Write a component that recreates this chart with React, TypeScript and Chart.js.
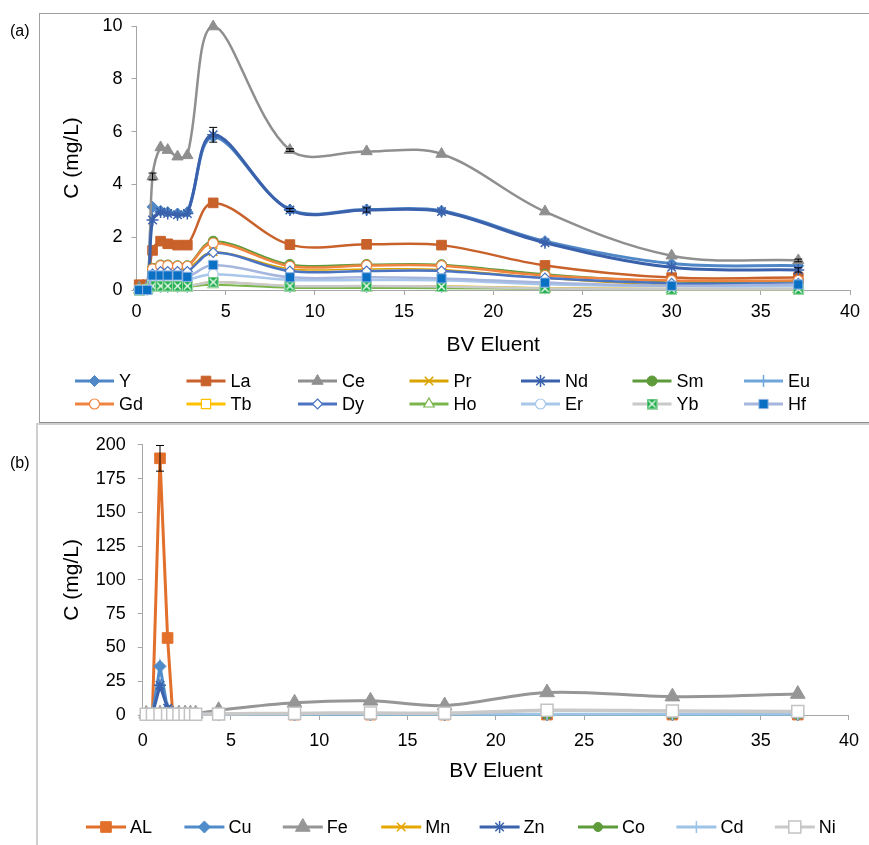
import React, { useEffect, useRef } from "react";
import { Chart, registerables } from "chart.js";
Chart.register(...registerables);

const FONT = "'Liberation Sans', Arial, sans-serif";

// ---------- shared ticks ----------
const X_TICKS = [0, 5, 10, 15, 20, 25, 30, 35, 40];
const Y_TICKS_A = [0, 2, 4, 6, 8, 10];
const Y_TICKS_B = [0, 25, 50, 75, 100, 125, 150, 175, 200];

// ---------- panel (a): REE ----------
const BV_A = [0.15, 0.6, 0.9, 1.35, 1.75, 2.3, 2.85, 4.3, 8.6, 12.9, 17.1, 22.9, 30, 37.1];
const NAMES_A = ["Y", "La", "Ce", "Pr", "Nd", "Sm", "Eu", "Gd", "Tb", "Dy", "Ho", "Er", "Yb", "Hf"];
const Y_A = [0.02, 0.05, 3.15, 3.0, 2.95, 2.9, 2.95, 5.8, 3.05, 3.05, 3.0, 1.85, 1.0, 0.92];
const LA_A = [0.2, 0.2, 1.5, 1.85, 1.75, 1.7, 1.7, 3.3, 1.72, 1.73, 1.7, 0.93, 0.47, 0.47];
const CE_A = [0.1, 0.15, 4.3, 5.4, 5.3, 5.05, 5.1, 9.98, 5.3, 5.25, 5.15, 2.97, 1.3, 1.12];
const PR_A = [0.02, 0.05, 0.75, 0.85, 0.85, 0.82, 0.82, 1.45, 0.8, 0.8, 0.78, 0.45, 0.18, 0.16];
const ND_A = [0.02, 0.05, 2.65, 2.95, 2.9, 2.85, 2.9, 5.88, 3.03, 3.03, 2.97, 1.79, 0.86, 0.76];
const SM_A = [0.02, 0.05, 0.82, 0.95, 0.95, 0.92, 0.92, 1.85, 0.97, 0.97, 0.96, 0.6, 0.32, 0.32];
const EU_A = [0.0, 0.02, 0.1, 0.12, 0.12, 0.12, 0.12, 0.3, 0.12, 0.12, 0.12, 0.07, 0.04, 0.04];
const GD_A = [0.02, 0.05, 0.8, 0.92, 0.92, 0.9, 0.9, 1.78, 0.9, 0.93, 0.92, 0.55, 0.36, 0.36];
const TB_A = [0.0, 0.02, 0.12, 0.15, 0.15, 0.15, 0.15, 0.3, 0.15, 0.15, 0.15, 0.08, 0.05, 0.05];
const DY_A = [0.02, 0.05, 0.6, 0.7, 0.7, 0.7, 0.7, 1.42, 0.72, 0.72, 0.72, 0.45, 0.25, 0.25];
const HO_A = [0.0, 0.02, 0.1, 0.12, 0.12, 0.12, 0.12, 0.2, 0.08, 0.08, 0.07, 0.04, 0.02, 0.02];
const ER_A = [0.01, 0.03, 0.35, 0.4, 0.4, 0.4, 0.4, 0.6, 0.38, 0.38, 0.37, 0.22, 0.14, 0.14];
const YB_A = [0.0, 0.02, 0.15, 0.15, 0.15, 0.15, 0.15, 0.3, 0.15, 0.15, 0.13, 0.06, 0.03, 0.03];
const HF_A = [0.0, 0.0, 0.55, 0.55, 0.55, 0.55, 0.5, 0.95, 0.48, 0.48, 0.44, 0.28, 0.16, 0.21];
const ERR_CE_A = [0, 0, 0.13, 0, 0, 0, 0, 0, 0.05, 0, 0, 0, 0, 0.05];
const ERR_ND_A = [0, 0, 0, 0, 0, 0, 0, 0.28, 0.06, 0.08, 0, 0, 0, 0.08];

// ---------- panel (b): metals ----------
const BV_B = [0.2, 0.55, 0.98, 1.41, 1.7, 2.05, 2.4, 2.7, 3.0, 4.3, 8.6, 12.9, 17.1, 22.9, 30, 37.1];
const NAMES_B = ["AL", "Cu", "Fe", "Mn", "Zn", "Co", "Cd", "Ni"];
const AL_B = [0.5, 0.5, 190, 57, 0.6, 0.5, 0.5, 0.5, 0.5, 0.4, 0.3, 0.3, 0.3, 0.3, 0.3, 0.3];
const CU_B = [0.3, 0.3, 36, 4, 1.5, 0.8, 0.6, 0.5, 0.5, 0.3, 0.3, 0.3, 0.3, 0.3, 0.3, 0.3];
const FE_B = [0.8, 0.8, 1, 1, 1, 1, 1, 1, 1, 3.5, 9, 10.5, 7, 16.7, 13.6, 15.5];
const MN_B = [0.3, 0.3, 0.3, 0.3, 0.3, 0.3, 0.3, 0.3, 0.3, 0.3, 0.3, 0.3, 0.3, 0.3, 0.3, 0.3];
const ZN_B = [0.3, 0.3, 22, 5, 2, 1, 0.6, 0.5, 0.5, 0.3, 0.3, 0.3, 0.3, 0.3, 0.3, 0.3];
const CO_B = [0.3, 0.3, 0.3, 0.3, 0.3, 0.3, 0.3, 0.3, 0.3, 0.3, 0.3, 0.3, 0.3, 0.3, 0.3, 0.3];
const CD_B = [0.5, 0.5, 0.5, 0.5, 0.5, 0.5, 0.5, 0.5, 0.5, 0.5, 0.5, 0.5, 0.5, 0.5, 0.5, 0.5];
const NI_B = [0.5, 0.5, 0.5, 0.5, 0.5, 0.5, 0.5, 0.5, 0.5, 0.8, 1.2, 1.5, 1.3, 3.5, 3.0, 2.6];
const ERR_AL_B = [0, 0, 9.5, 0, 0, 0, 0, 0, 0, 0, 0, 0, 0, 0, 0, 0];

type Mk = { style: string; r: number; fill: string; stroke: string; lw: number };

let boxXImg: HTMLCanvasElement | null = null;
function getBoxX(): HTMLCanvasElement {
  if (boxXImg) return boxXImg;
  const c = document.createElement("canvas");
  c.width = 11;
  c.height = 11;
  const g = c.getContext("2d")!;
  g.fillStyle = "#1FAF4C";
  g.fillRect(0, 0, 11, 11);
  g.strokeStyle = "#ffffff";
  g.lineWidth = 1.2;
  g.beginPath();
  g.moveTo(2, 2);
  g.lineTo(9, 9);
  g.moveTo(9, 2);
  g.lineTo(2, 9);
  g.stroke();
  g.strokeStyle = "#9fd6a8";
  g.lineWidth = 1;
  g.strokeRect(0.5, 0.5, 10, 10);
  boxXImg = c;
  return c;
}

function drawMarker(ctx: CanvasRenderingContext2D, m: Mk, x: number, y: number) {
  const r = m.r;
  ctx.save();
  ctx.fillStyle = m.fill;
  ctx.strokeStyle = m.stroke;
  ctx.lineWidth = m.lw;
  ctx.beginPath();
  switch (m.style) {
    case "circle":
      ctx.arc(x, y, r, 0, Math.PI * 2);
      ctx.fill();
      ctx.stroke();
      break;
    case "rect": {
      const s = r * Math.SQRT1_2;
      ctx.rect(x - s, y - s, 2 * s, 2 * s);
      ctx.fill();
      ctx.stroke();
      break;
    }
    case "rectRot":
      ctx.moveTo(x, y - r);
      ctx.lineTo(x + r, y);
      ctx.lineTo(x, y + r);
      ctx.lineTo(x - r, y);
      ctx.closePath();
      ctx.fill();
      ctx.stroke();
      break;
    case "triangle":
      ctx.moveTo(x, y - r);
      ctx.lineTo(x + r * 0.866, y + r * 0.5);
      ctx.lineTo(x - r * 0.866, y + r * 0.5);
      ctx.closePath();
      ctx.fill();
      ctx.stroke();
      break;
    case "cross":
      ctx.moveTo(x, y - r);
      ctx.lineTo(x, y + r);
      ctx.moveTo(x - r, y);
      ctx.lineTo(x + r, y);
      ctx.stroke();
      break;
    case "crossRot": {
      const d = r * Math.SQRT1_2;
      ctx.moveTo(x - d, y - d);
      ctx.lineTo(x + d, y + d);
      ctx.moveTo(x + d, y - d);
      ctx.lineTo(x - d, y + d);
      ctx.stroke();
      break;
    }
    case "star": {
      const d = r * Math.SQRT1_2;
      ctx.moveTo(x, y - r);
      ctx.lineTo(x, y + r);
      ctx.moveTo(x - r, y);
      ctx.lineTo(x + r, y);
      ctx.moveTo(x - d, y - d);
      ctx.lineTo(x + d, y + d);
      ctx.moveTo(x + d, y - d);
      ctx.lineTo(x - d, y + d);
      ctx.stroke();
      break;
    }
    case "boxX": {
      const img = getBoxX();
      ctx.drawImage(img, x - img.width / 2, y - img.height / 2);
      break;
    }
  }
  ctx.restore();
}

function makeDataset(label: string, xs: number[], ys: number[], color: string, width: number, mk: Mk, tension: number, errs?: number[]) {
  return {
    label,
    data: xs.map((x, i) => ({ x, y: ys[i] })),
    borderColor: color,
    backgroundColor: color,
    borderWidth: width,
    tension,
    clip: false,
    pointStyle: mk.style === "boxX" ? getBoxX() : mk.style,
    pointRadius: mk.r,
    pointHoverRadius: mk.r,
    pointBackgroundColor: mk.fill,
    pointBorderColor: mk.stroke,
    pointBorderWidth: mk.lw,
    mk,
    errs,
  } as any;
}

const errorBarPlugin = {
  id: "errorBars",
  afterDatasetsDraw(chart: any) {
    const ctx = chart.ctx as CanvasRenderingContext2D;
    const xs = chart.scales.x;
    const ys = chart.scales.y;
    ctx.save();
    ctx.strokeStyle = "#000";
    ctx.lineWidth = 1;
    chart.data.datasets.forEach((ds: any) => {
      if (!ds.errs) return;
      ds.data.forEach((p: any, i: number) => {
        const e = ds.errs[i];
        if (!e) return;
        const px = xs.getPixelForValue(p.x);
        const y1 = ys.getPixelForValue(p.y + e);
        const y2 = ys.getPixelForValue(p.y - e);
        ctx.beginPath();
        ctx.moveTo(px, y1);
        ctx.lineTo(px, y2);
        ctx.moveTo(px - 4, y1);
        ctx.lineTo(px + 4, y1);
        ctx.moveTo(px - 4, y2);
        ctx.lineTo(px + 4, y2);
        ctx.stroke();
      });
    });
    ctx.restore();
  },
};

const gridLegendPlugin = {
  id: "gridLegend",
  afterDraw(chart: any, _a: any, opts: any) {
    if (!opts || !opts.show) return;
    const ctx = chart.ctx as CanvasRenderingContext2D;
    ctx.save();
    ctx.font = `${opts.fontSize}px ${FONT}`;
    ctx.textBaseline = "middle";
    ctx.textAlign = "left";
    chart.data.datasets.forEach((ds: any, i: number) => {
      const col = i % opts.cols;
      const row = Math.floor(i / opts.cols);
      const x = opts.x0 + col * opts.pitch;
      const y = opts.y0 + row * opts.rowGap;
      ctx.strokeStyle = ds.borderColor;
      ctx.lineWidth = 3;
      ctx.beginPath();
      ctx.moveTo(x, y);
      ctx.lineTo(x + opts.lineLen, y);
      ctx.stroke();
      drawMarker(ctx, ds.mk, x + opts.lineLen / 2, y);
      ctx.fillStyle = "#000";
      ctx.fillText(ds.label, x + opts.lineLen + opts.gap, y + 1);
    });
    ctx.restore();
  },
};

function axisOpts(ticks: number[], min: number, max: number, fixed: { w?: number; h?: number }, title: string, titlePad: any, tickPad: number) {
  return {
    type: "linear",
    min,
    max,
    afterBuildTicks: (s: any) => {
      s.ticks = ticks.map((v) => ({ value: v }));
    },
    afterFit: (s: any) => {
      if (fixed.w !== undefined) s.width = fixed.w;
      if (fixed.h !== undefined) s.height = fixed.h;
    },
    grid: { drawOnChartArea: false, drawTicks: true, tickLength: 5, color: "#A6A6A6" },
    border: { display: true, color: "#A6A6A6", width: 1 },
    ticks: { color: "#000", font: { family: FONT, size: 18 }, padding: tickPad, maxRotation: 0, autoSkip: false },
    title: { display: true, text: title, color: "#000", font: { family: FONT, size: 21 }, padding: titlePad },
  };
}

function PanelA() {
  const ref = useRef<HTMLCanvasElement>(null);
  useEffect(() => {
    const t = 0.35;
    const ds = [
      makeDataset(NAMES_A[0], BV_A, Y_A, "#4F87C7", 3, { style: "rectRot", r: 5.5, fill: "#4F87C7", stroke: "#4F87C7", lw: 1 }, t),
      makeDataset(NAMES_A[1], BV_A, LA_A, "#C8622A", 2.5, { style: "rect", r: 6.8, fill: "#C8622A", stroke: "#C8622A", lw: 1 }, t),
      makeDataset(NAMES_A[2], BV_A, CE_A, "#8F8F8F", 2.5, { style: "triangle", r: 6.5, fill: "#8F8F8F", stroke: "#8F8F8F", lw: 1 }, t, ERR_CE_A),
      makeDataset(NAMES_A[3], BV_A, PR_A, "#D9A300", 1.5, { style: "crossRot", r: 6, fill: "#D9A300", stroke: "#D9A300", lw: 1.5 }, t),
      makeDataset(NAMES_A[4], BV_A, ND_A, "#3A61AC", 3, { style: "star", r: 6, fill: "#3A61AC", stroke: "#3A61AC", lw: 1.5 }, t, ERR_ND_A),
      makeDataset(NAMES_A[5], BV_A, SM_A, "#5E9B3A", 2, { style: "circle", r: 5, fill: "#5E9B3A", stroke: "#5E9B3A", lw: 1 }, t),
      makeDataset(NAMES_A[6], BV_A, EU_A, "#6FA6DC", 2, { style: "cross", r: 6, fill: "#6FA6DC", stroke: "#6FA6DC", lw: 1.5 }, t),
      makeDataset(NAMES_A[7], BV_A, GD_A, "#EE8440", 2.5, { style: "circle", r: 5, fill: "#ffffff", stroke: "#EE8440", lw: 1.2 }, t),
      makeDataset(NAMES_A[8], BV_A, TB_A, "#FFC000", 2, { style: "rect", r: 6.5, fill: "#ffffff", stroke: "#FFC000", lw: 1.2 }, t),
      makeDataset(NAMES_A[9], BV_A, DY_A, "#4A73C2", 2.5, { style: "rectRot", r: 5, fill: "#ffffff", stroke: "#4A73C2", lw: 1.2 }, t),
      makeDataset(NAMES_A[10], BV_A, HO_A, "#7AB54C", 2, { style: "triangle", r: 6, fill: "#ffffff", stroke: "#7AB54C", lw: 1.2 }, t),
      makeDataset(NAMES_A[11], BV_A, ER_A, "#A9C7EA", 2.5, { style: "circle", r: 5, fill: "#ffffff", stroke: "#A9C7EA", lw: 1.2 }, t),
      makeDataset(NAMES_A[12], BV_A, YB_A, "#C9C9C9", 2.5, { style: "boxX", r: 6, fill: "#1FAF4C", stroke: "#1FAF4C", lw: 1 }, t),
      makeDataset(NAMES_A[13], BV_A, HF_A, "#A6B6DE", 2.5, { style: "rect", r: 6.5, fill: "#0A70C4", stroke: "#8FB4E3", lw: 1 }, t),
    ];
    ds.forEach((d: any, i: number) => (d.order = -i));
    const chart = new Chart(ref.current!, {
      type: "line",
      data: { datasets: ds },
      options: {
        responsive: false,
        animation: false,
        layout: { padding: { left: 0, right: 19, top: 26, bottom: 0 } },
        scales: {
          x: axisOpts(X_TICKS, 0, 40, { h: 132 }, "BV Eluent", { top: 0, bottom: 64 }, 6) as any,
          y: axisOpts(Y_TICKS_A, 0, 10, { w: 136.5 }, "C (mg/L)", { top: 60, bottom: 0 }, 9) as any,
        },
        plugins: {
          legend: { display: false },
          tooltip: { enabled: false },
          gridLegend: { show: true, x0: 75, pitch: 111.5, cols: 7, y0: 381, rowGap: 23, lineLen: 39, gap: 5, fontSize: 18 },
        } as any,
      },
      plugins: [errorBarPlugin, gridLegendPlugin],
    });
    return () => chart.destroy();
  }, []);
  return <canvas ref={ref} width={869} height={422} style={{ position: "absolute", left: 0, top: 0 }} />;
}

function PanelB() {
  const ref = useRef<HTMLCanvasElement>(null);
  useEffect(() => {
    const t = 0.35;
    const ds = [
      makeDataset(NAMES_B[0], BV_B, AL_B, "#E2702A", 3, { style: "rect", r: 7.5, fill: "#E2702A", stroke: "#E2702A", lw: 1 }, 0, ERR_AL_B),
      makeDataset(NAMES_B[1], BV_B, CU_B, "#4F8CC9", 3, { style: "rectRot", r: 6, fill: "#4F8CC9", stroke: "#4F8CC9", lw: 1 }, 0),
      makeDataset(NAMES_B[2], BV_B, FE_B, "#969696", 3, { style: "triangle", r: 8.5, fill: "#969696", stroke: "#969696", lw: 1 }, t),
      makeDataset(NAMES_B[3], BV_B, MN_B, "#E6A800", 2, { style: "crossRot", r: 6, fill: "#E6A800", stroke: "#E6A800", lw: 1.5 }, t),
      makeDataset(NAMES_B[4], BV_B, ZN_B, "#3B62AC", 3, { style: "star", r: 6, fill: "#3B62AC", stroke: "#3B62AC", lw: 1.5 }, 0),
      makeDataset(NAMES_B[5], BV_B, CO_B, "#5E9B3A", 2, { style: "circle", r: 4.5, fill: "#5E9B3A", stroke: "#5E9B3A", lw: 1 }, t),
      makeDataset(NAMES_B[6], BV_B, CD_B, "#9DC3E6", 3, { style: "cross", r: 6, fill: "#9DC3E6", stroke: "#9DC3E6", lw: 1.5 }, t),
      makeDataset(NAMES_B[7], BV_B, NI_B, "#C9C9C9", 3.5, { style: "rect", r: 8.5, fill: "#ffffff", stroke: "#C3C3C3", lw: 1.5 }, t),
    ];
    ds.forEach((d: any, i: number) => (d.order = -i));
    const chart = new Chart(ref.current!, {
      type: "line",
      data: { datasets: ds },
      options: {
        responsive: false,
        animation: false,
        layout: { padding: { left: 0, right: 18.3, top: 14, bottom: 0 } },
        scales: {
          x: axisOpts(X_TICKS, 0, 40, { h: 130 }, "BV Eluent", { top: 0, bottom: 61 }, 10) as any,
          y: axisOpts(Y_TICKS_B, 0, 200, { w: 142.7 }, "C (mg/L)", { top: 60, bottom: 0 }, 12) as any,
        },
        plugins: {
          legend: { display: false },
          tooltip: { enabled: false },
          gridLegend: { show: true, x0: 86, pitch: 98.4, cols: 8, y0: 405, rowGap: 23, lineLen: 40, gap: 4, fontSize: 18 },
        } as any,
      },
      plugins: [errorBarPlugin, gridLegendPlugin],
    });
    return () => chart.destroy();
  }, []);
  return <canvas ref={ref} width={869} height={423} style={{ position: "absolute", left: 0, top: 0 }} />;
}

export default function App() {
  const label: React.CSSProperties = { position: "absolute", left: 10, fontFamily: FONT, fontSize: 16, color: "#000", lineHeight: "20px" };
  return (
    <div style={{ position: "absolute", left: 0, top: 0, width: 869, height: 845, overflow: "hidden", background: "#fff" }}>
      <div style={{ position: "absolute", left: 39, top: 13, width: 840, height: 408, borderLeft: "1px solid #A0A0A0", borderTop: "1px solid #A0A0A0", borderBottom: "1px solid #8C8C8C" }} />
      <div style={{ position: "absolute", left: 36, top: 423, width: 840, height: 440, borderLeft: "2px solid #CFCFCF", borderTop: "2px solid #CFCFCF" }} />
      <div style={{ position: "absolute", left: 0, top: 0, width: 869, height: 422 }}>
        <PanelA />
      </div>
      <div style={{ position: "absolute", left: 0, top: 422, width: 869, height: 423 }}>
        <PanelB />
      </div>
      <div style={{ ...label, top: 21 }}>(a)</div>
      <div style={{ ...label, top: 453 }}>(b)</div>
    </div>
  );
}
